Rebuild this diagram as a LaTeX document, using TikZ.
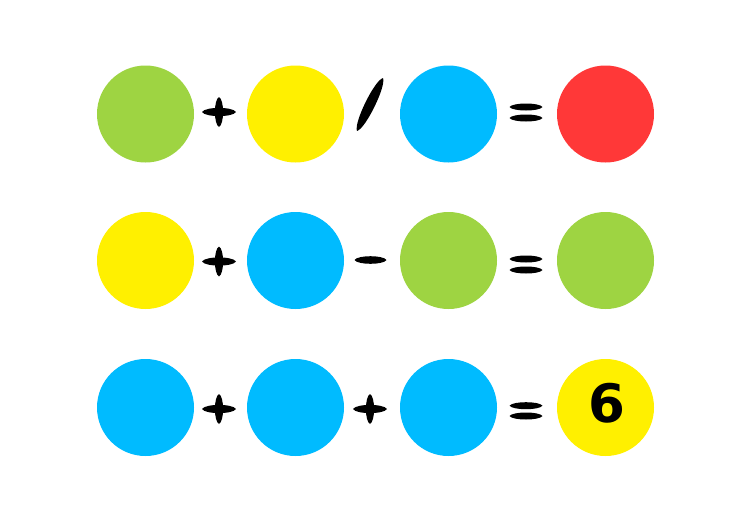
\documentclass[tikz,border=0pt]{standalone}
\usepackage{fontspec}
\newfontfamily\digitfont{DejaVu Sans}
\definecolor{cgreen}{RGB}{158,212,66}
\definecolor{cyellow}{RGB}{255,240,0}
\definecolor{cblue}{RGB}{0,187,255}
\definecolor{cred}{RGB}{255,56,56}
\tikzset{
  ball/.style={circle, minimum size=97pt, inner sep=0pt, draw=none},
}
% \brush{cx}{cy}{angle}{halflength}{halfwidth}
\newcommand{\brush}[5]{%
  \fill[black, shift={(#1,#2)}, rotate=#3]
    (-#4,0) .. controls (-0.8*#4,1.333*#5) and (0.8*#4,1.333*#5) .. (#4,0)
    .. controls (0.8*#4,-1.333*#5) and (-0.8*#4,-1.333*#5) .. (-#4,0) -- cycle;}
\newcommand{\plusop}[2]{\brush{#1}{#2}{0}{17}{4.1}\brush{#1}{#2}{90}{15}{4.1}}
\newcommand{\equalop}[3]{\brush{526}{#1}{0}{16.5}{3.5}\brush{526}{#2}{0}{16.5}{3.5}}
\begin{document}
\begin{tikzpicture}[x=1pt,y=-1pt]
\useasboundingbox (0,0) rectangle (750,512);
\fill[white] (0,0) rectangle (750,512);
% row 1
\node[ball, fill=cgreen]  (a1) at (145.5,114) {};
\node[ball, fill=cyellow] (b1) at (295.5,114) {};
\node[ball, fill=cblue]   (c1) at (448.5,114) {};
\node[ball, fill=cred]    (d1) at (605.5,114) {};
% row 2
\node[ball, fill=cyellow] (a2) at (145.5,260.5) {};
\node[ball, fill=cblue]   (b2) at (295.5,260.5) {};
\node[ball, fill=cgreen]  (c2) at (448.5,260.5) {};
\node[ball, fill=cgreen]  (d2) at (605.5,260.5) {};
% row 3
\node[ball, fill=cblue]   (a3) at (145.5,407.5) {};
\node[ball, fill=cblue]   (b3) at (295.5,407.5) {};
\node[ball, fill=cblue]   (c3) at (448.5,407.5) {};
\node[ball, fill=cyellow] (d3) at (605.5,407.5) {};
\node (six) at (606.5,403) {\digitfont\bfseries\fontsize{53}{53}\selectfont 6};
% operators row 1
\plusop{219}{112}
\brush{370}{104.5}{63.9}{29.5}{5}
\equalop{107}{118}{}
% operators row 2
\plusop{219}{261.5}
\brush{370.5}{260}{0}{16}{3.8}
\equalop{259}{270}{}
% operators row 3
\plusop{219}{409}
\plusop{370}{409}
\equalop{405.7}{416}{}
\end{tikzpicture}
\end{document}
